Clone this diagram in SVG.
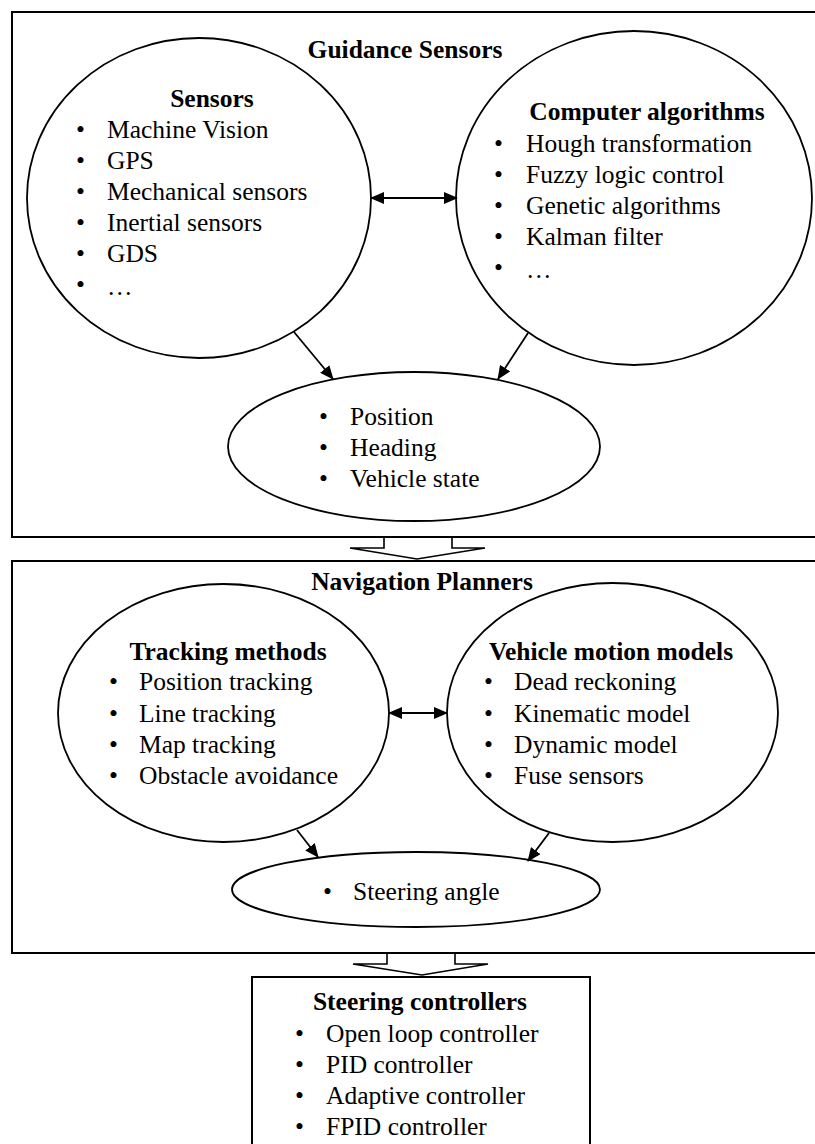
<svg xmlns="http://www.w3.org/2000/svg" width="815" height="1144" viewBox="0 0 815 1144">
  <style>
    .frame { fill: none; stroke: #000; stroke-width: 2; }
    .node { fill: #fff; stroke: #000; stroke-width: 1.8; }
    .block { fill: #fff; stroke: #000; stroke-width: 1.6; stroke-linejoin: miter; }
    .edge { fill: none; stroke: #000; stroke-width: 1.8; }
    text { font-family: "Liberation Serif", "Times New Roman", serif; font-size: 25.5px; fill: #000; }
    .title { font-weight: bold; text-anchor: middle; }
  </style>
  <defs>
    <marker id="head" markerUnits="userSpaceOnUse" markerWidth="14" markerHeight="12" viewBox="0 0 14 12" refX="13" refY="6" orient="auto-start-reverse">
      <path d="M0,0 L14,6 L0,12 Z" fill="#000"/>
    </marker>
  </defs>
  <rect width="815" height="1144" fill="#fff"/>

  <!-- Guidance sensors panel -->
  <g id="guidance-panel">
    <rect class="frame" x="12" y="12" width="820" height="525"/>
    <text class="title" x="405" y="58">Guidance Sensors</text>
  </g>

  <g id="sensors">
    <ellipse class="node" cx="199" cy="198" rx="172" ry="160"/>
    <text class="title" x="212" y="107">Sensors</text>
    <text x="76" y="138">•</text><text x="107" y="138">Machine Vision</text>
    <text x="76" y="169">•</text><text x="107" y="169">GPS</text>
    <text x="76" y="200">•</text><text x="107" y="200">Mechanical sensors</text>
    <text x="76" y="231">•</text><text x="107" y="231">Inertial sensors</text>
    <text x="76" y="262">•</text><text x="107" y="262">GDS</text>
    <text x="76" y="293">•</text><text x="107" y="295">…</text>
  </g>

  <g id="algorithms">
    <ellipse class="node" cx="634" cy="198" rx="178" ry="167"/>
    <text class="title" x="647" y="120">Computer algorithms</text>
    <text x="494" y="152">•</text><text x="526" y="152">Hough transformation</text>
    <text x="494" y="183">•</text><text x="526" y="183">Fuzzy logic control</text>
    <text x="494" y="214">•</text><text x="526" y="214">Genetic algorithms</text>
    <text x="494" y="245">•</text><text x="526" y="245">Kalman filter</text>
    <text x="494" y="276">•</text><text x="526" y="278">…</text>
  </g>

  <g id="vehicle-state">
    <ellipse class="node" cx="414" cy="446.5" rx="186" ry="74.5"/>
    <text x="319" y="425">•</text><text x="350" y="425">Position</text>
    <text x="319" y="456">•</text><text x="350" y="456">Heading</text>
    <text x="319" y="487">•</text><text x="350" y="487">Vehicle state</text>
  </g>

  <!-- Navigation planners panel -->
  <g id="navigation-panel">
    <rect class="frame" x="12" y="561" width="820" height="392"/>
  </g>

  <g id="tracking">
    <ellipse class="node" cx="223.5" cy="713" rx="165.5" ry="129"/>
    <text class="title" x="228" y="660">Tracking methods</text>
    <text x="109" y="690">•</text><text x="139" y="690">Position tracking</text>
    <text x="109" y="722">•</text><text x="139" y="722">Line tracking</text>
    <text x="109" y="753">•</text><text x="139" y="753">Map tracking</text>
    <text x="109" y="784">•</text><text x="139" y="784">Obstacle avoidance</text>
  </g>

  <g id="motion-models">
    <ellipse class="node" cx="612.5" cy="712.5" rx="165.5" ry="129.5"/>
    <text class="title" x="611" y="660">Vehicle motion models</text>
    <text x="484" y="690">•</text><text x="514" y="690">Dead reckoning</text>
    <text x="484" y="722">•</text><text x="514" y="722">Kinematic model</text>
    <text x="484" y="753">•</text><text x="514" y="753">Dynamic model</text>
    <text x="484" y="784">•</text><text x="514" y="784">Fuse sensors</text>
  </g>

  <text class="title" x="422" y="590">Navigation Planners</text>

  <g id="steering-angle">
    <ellipse class="node" cx="416" cy="889.5" rx="184" ry="37.5"/>
    <text x="323" y="900">•</text><text x="353" y="900">Steering angle</text>
  </g>

  <!-- Steering controllers box -->
  <g id="controllers">
    <rect class="frame" x="252" y="977" width="338" height="190"/>
    <text class="title" x="420" y="1010">Steering controllers</text>
    <text x="295" y="1042">•</text><text x="326" y="1042">Open loop controller</text>
    <text x="295" y="1073">•</text><text x="326" y="1073">PID controller</text>
    <text x="295" y="1104">•</text><text x="326" y="1104">Adaptive controller</text>
    <text x="295" y="1135">•</text><text x="326" y="1135">FPID controller</text>
  </g>

  <g id="connectors">
    <line class="edge" x1="371" y1="198" x2="457" y2="198" marker-start="url(#head)" marker-end="url(#head)"/>
    <line class="edge" x1="294" y1="332" x2="333" y2="379" marker-end="url(#head)"/>
    <line class="edge" x1="528" y1="333" x2="498" y2="379" marker-end="url(#head)"/>
    <line class="edge" x1="389" y1="713" x2="447" y2="713" marker-start="url(#head)" marker-end="url(#head)"/>
    <line class="edge" x1="297" y1="830" x2="318" y2="857" marker-end="url(#head)"/>
    <line class="edge" x1="549" y1="833" x2="528" y2="861" marker-end="url(#head)"/>
    <polygon class="block" points="384,537 384,548 350,548 417,559 485,548 452,548 452,537"/>
    <polygon class="block" points="387,953 387,964 353,964 422,975 488,964 455,964 455,953"/>
    <line class="frame" x1="12" y1="537" x2="815" y2="537"/>
    <line class="frame" x1="12" y1="953" x2="815" y2="953"/>
  </g>
</svg>
